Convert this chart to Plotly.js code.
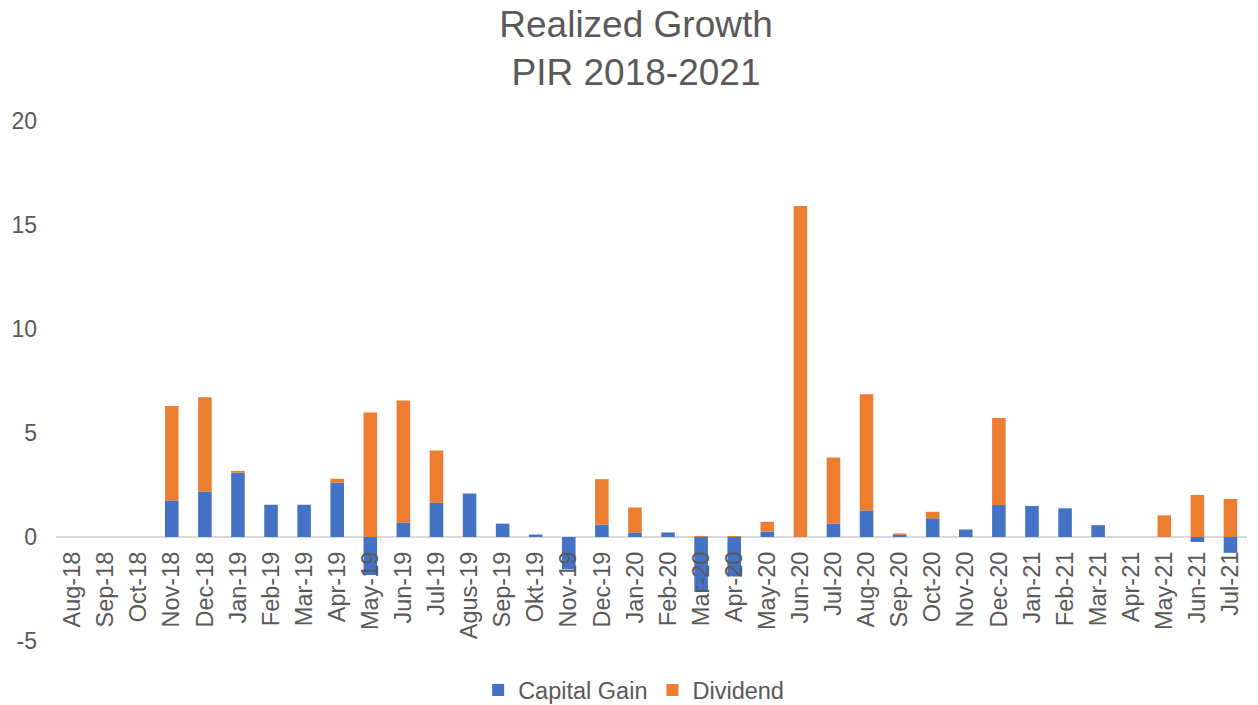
<!DOCTYPE html>
<html>
<head>
<meta charset="utf-8">
<script src="https://cdn.plot.ly/plotly-3.0.1.min.js"></script>
<style>html,body{margin:0;padding:0;background:#fff;}#chart{width:1258px;height:705px;}</style>
</head>
<body>
<div id="chart"></div>
<script>
const months = ["Aug-18","Sep-18","Oct-18","Nov-18","Dec-18","Jan-19","Feb-19","Mar-19","Apr-19","May-19","Jun-19","Jul-19","Agus-19","Sep-19","Okt-19","Nov-19","Dec-19","Jan-20","Feb-20","Mar-20","Apr-20","May-20","Jun-20","Jul-20","Aug-20","Sep-20","Oct-20","Nov-20","Dec-20","Jan-21","Feb-21","Mar-21","Apr-21","May-21","Jun-21","Jul-21"];
const capitalGain = [0,0,0,1.76,2.18,3.09,1.55,1.55,2.61,-1.83,0.69,1.64,2.09,0.64,0.12,-1.55,0.59,0.22,0.22,-2.64,-1.9,0.26,0,0.64,1.28,0.10,0.90,0.36,1.54,1.49,1.38,0.57,0,0,-0.24,-0.76];
const dividend = [0,0,0,4.54,4.54,0.09,0,0,0.19,5.98,5.87,2.52,0,0,0,0,2.19,1.20,0,0.05,0.05,0.47,15.91,3.18,5.58,0.07,0.31,0,4.18,0,0,0,0,1.04,2.02,1.83];
const yTickVals = [-5,0,5,10,15,20];
const yTickText = ["-5","0","5","10","15","20"];
const seriesNames = ["Capital Gain","Dividend"];
const colors = ["#4472C4","#ED7D31"];
const font = "'Liberation Sans', Arial, sans-serif";
const grey = "#595959";

const traces = [
  {type:"bar", name:seriesNames[0], x:months, y:capitalGain, marker:{color:colors[0]}},
  {type:"bar", name:seriesNames[1], x:months, y:dividend, marker:{color:colors[1]}}
];

const layout = {
  width:1258, height:705,
  paper_bgcolor:"#fff", plot_bgcolor:"#fff",
  margin:{l:56, r:11, t:121, b:64, pad:0},
  barmode:"relative",
  bargap:0.59,
  font:{family:font, color:grey},
  title:{text:"Realized Growth<br>PIR 2018-2021", font:{family:font, size:37, color:grey}, x:0.5056, xanchor:"center", xref:"container", y:0.948, yanchor:"top", yref:"container"},
  xaxis:{type:"category", anchor:"free", position:0.2, showline:false, showgrid:false, zeroline:false, ticks:"", tickangle:-90, tickfont:{family:font, size:23.5, color:grey}, ticklabelstandoff:9, fixedrange:true},
  yaxis:{range:[-5,20], tickmode:"array", tickvals:yTickVals, ticktext:yTickText, showgrid:false, zeroline:true, zerolinecolor:"#d9d9d9", zerolinewidth:2, showline:false, ticks:"", tickfont:{family:font, size:23, color:grey}, ticklabelstandoff:18},
  legend:{orientation:"h", x:0.485, xanchor:"center", xref:"paper", y:0.021, yanchor:"middle", yref:"container", font:{family:font, size:23.5, color:grey}, traceorder:"normal", itemwidth:30}
};

Plotly.newPlot("chart", traces, layout, {staticPlot:true, displayModeBar:false});
</script>
</body>
</html>
